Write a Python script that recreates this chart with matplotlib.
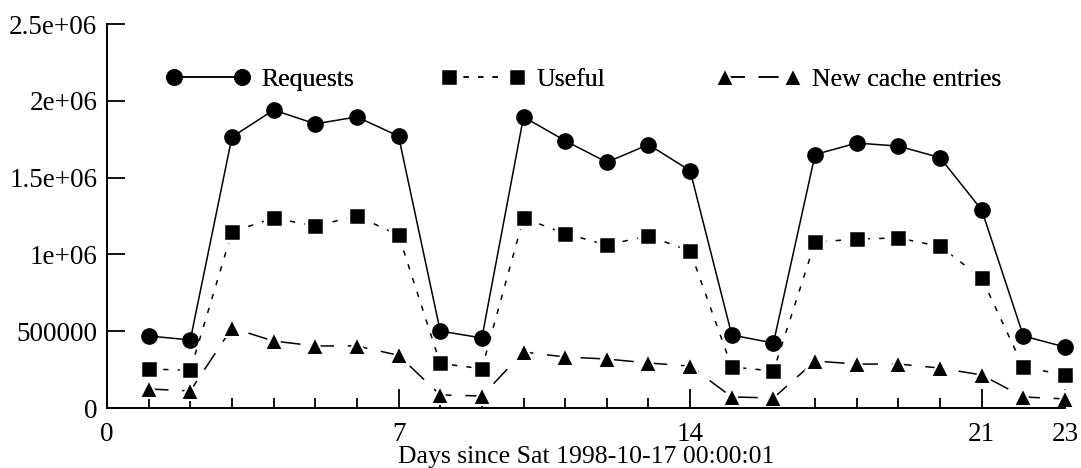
import matplotlib
matplotlib.use('Agg')
import matplotlib.pyplot as plt
import numpy as np

plt.rcParams['font.family'] = ['Liberation Serif', 'DejaVu Serif']

# Data (days since start)
days = list(range(1, 24))
requests = [469000, 443000, 1764000, 1940000, 1850000, 1895000, 1770000,
            501000, 456000, 1895000, 1740000, 1600000, 1715000, 1545000,
            475000, 423000, 1650000, 1725000, 1705000, 1630000, 1290000,
            469000, 397000]
useful = [254000, 245000, 1146000, 1237000, 1185000, 1250000, 1126000,
          290000, 256000, 1237000, 1135000, 1062000, 1120000, 1022000,
          267000, 241000, 1080000, 1100000, 1107000, 1052000, 846000,
          267000, 215000]
new_entries = [124000, 111000, 521000, 436000, 404000, 404000, 343000,
               85000, 78000, 365000, 332000, 319000, 293000, 273000,
               72000, 65000, 306000, 286000, 286000, 260000, 215000,
               72000, 59000]

series_labels = ['Requests', 'Useful', 'New cache entries']
ytick_vals = [0, 500000, 1000000, 1500000, 2000000, 2500000]
ytick_labels = ['0', '500000', '1e+06', '1.5e+06', '2e+06', '2.5e+06']
xtick_major = [0, 7, 14, 21, 23]
xlabel = 'Days since Sat 1998-10-17 00:00:01'

FS = 18.5
TFS = 19.5

fig = plt.figure(figsize=(10.81, 4.68), dpi=100)
ax = fig.add_axes([107 / 1081, 1 - 408 / 468, (1065 - 107) / 1081, (408 - 24) / 468])

l1, = ax.plot(days, requests, color='black', linewidth=1.1, marker='o',
              markersize=11, markeredgecolor='black', clip_on=False)
l2, = ax.plot(days, useful, color='black', linewidth=1.1, dashes=(3.5, 6),
              marker='s', markersize=12.5, markeredgecolor='white',
              markeredgewidth=2.5, clip_on=False)
l3, = ax.plot(days, new_entries, color='black', linewidth=1.1, dashes=(13, 9),
              marker='^', markersize=13, markeredgecolor='white',
              markeredgewidth=1.5, clip_on=False)

ax.set_xlim(0, 23)
ax.set_ylim(0, 2500000)
ax.set_xticks(xtick_major)
ax.set_xticks(days, minor=True)
ax.set_yticks(ytick_vals)
ax.set_yticklabels(ytick_labels)
ax.tick_params(axis='both', which='major', direction='in', labelsize=TFS,
               width=1.3, color='black')
ax.tick_params(axis='x', which='major', length=14, pad=10)
ax.tick_params(axis='x', which='minor', direction='in', length=7, width=1.3)
ax.tick_params(axis='y', which='major', length=13, pad=7)

ax.set_xlabel(xlabel, fontsize=FS, labelpad=-1)

for side in ['top', 'right']:
    ax.spines[side].set_visible(False)
for side in ['left', 'bottom']:
    ax.spines[side].set_linewidth(1.4)

# Legend entries placed like gnuplot's key (equal column widths)
leg_x = [166, 441, 717]
for handle, label, xpx in zip([l1, l2, l3], series_labels, leg_x):
    leg = fig.legend([handle], [label], loc='center left',
                     bbox_to_anchor=(xpx / 1081, 1 - 80 / 468),
                     frameon=False, fontsize=FS, numpoints=2,
                     handlelength=3.25, handletextpad=0.45,
                     borderpad=0, borderaxespad=0)
    fig.add_artist(leg)

plt.savefig('out.png', dpi=100)
plt.close()
